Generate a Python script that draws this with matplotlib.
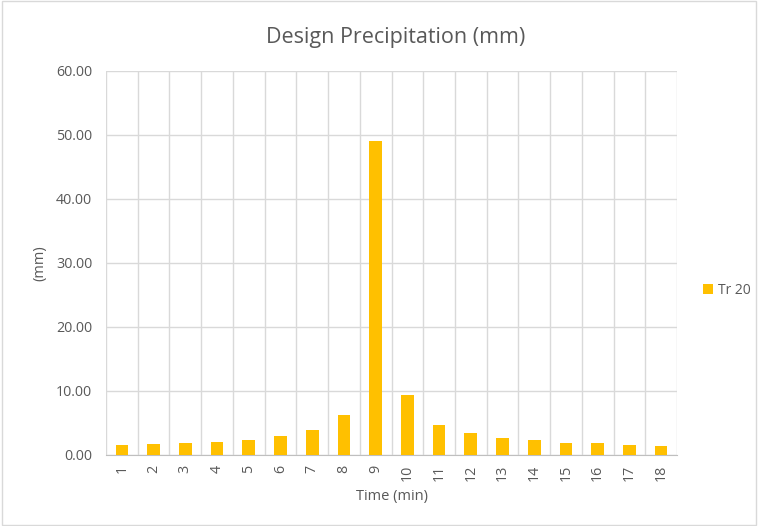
import matplotlib
matplotlib.use("Agg")
import matplotlib.pyplot as plt
import numpy as np

categories = [str(i) for i in range(1, 19)]
values = [1.5, 1.65, 1.9, 2.07, 2.4, 2.9, 3.97, 6.2, 49.0, 9.3, 4.75, 3.46, 2.69, 2.27, 1.92, 1.8, 1.5, 1.39]
yticks = [0, 10, 20, 30, 40, 50, 60]
series_name = "Tr 20"

plt.rcParams['font.family'] = ['Open Sans', 'DejaVu Sans']
fig = plt.figure(figsize=(7.58, 5.26), dpi=100)
ax = fig.add_axes([106/758, 1-455/526, (677-106)/758, (455-71)/526])

x = np.arange(len(categories))
ax.bar(x, values, width=0.4, color='#FFC000', label=series_name, zorder=3)

ax.set_xlim(-0.5, len(categories) - 0.5)
ax.set_ylim(0, 60)
ax.set_yticks(yticks)
ax.set_yticklabels([f"{v:.2f}" for v in yticks], fontsize=10.3, color='#595959')
ax.set_xticks(x)
ax.set_xticklabels(categories, rotation=90, fontsize=10.3, color='#595959')
ax.set_xticks(np.arange(-0.5, len(categories), 1), minor=True)
ax.grid(axis='y', color='#d9d9d9', linewidth=1, zorder=0)
ax.grid(axis='x', which='minor', color='#d9d9d9', linewidth=1, zorder=0)
ax.grid(axis='x', which='major', visible=False)
ax.tick_params(axis='both', which='both', length=0)
ax.tick_params(axis='y', pad=10)
ax.tick_params(axis='x', pad=7)
for s in ['top', 'right', 'left']:
    ax.spines[s].set_visible(False)
ax.spines['bottom'].set_color('#bfbfbf')

ax.set_xlabel("Time (min)", fontsize=10.5, color='#595959', labelpad=6)
ax.set_ylabel("(mm)", fontsize=10.5, color='#595959', labelpad=6)
fig.text((106+677)/2/758 + 0.005, 1-37/526, "Design Precipitation (mm)", ha='center', va='center', fontsize=15.5, color='#595959')

leg = fig.legend(loc='center left', bbox_to_anchor=(703/758, 1-290/526), frameon=False, fontsize=10,
                 handlelength=0.7, handleheight=0.7, handletextpad=0.4, borderpad=0, borderaxespad=0)
for t in leg.get_texts():
    t.set_color('#595959')

border = plt.Rectangle((0.002, 0.002), 0.996, 0.996, transform=fig.transFigure, fill=False, edgecolor='#d9d9d9', linewidth=1)
fig.patches.append(border)

fig.savefig("out.png", dpi=100)
